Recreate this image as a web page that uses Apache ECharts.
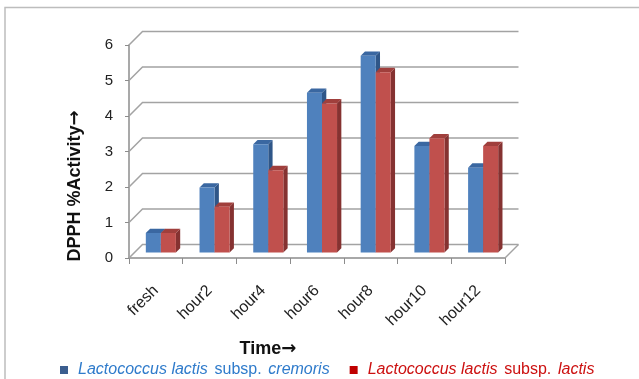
<!DOCTYPE html>
<html>
<head>
<meta charset="utf-8">
<script src="https://cdn.jsdelivr.net/npm/echarts@6/dist/echarts.min.js"></script>
<style>
  html, body { margin: 0; padding: 0; background: #fff; }
  #chart { width: 639px; height: 379px; }
</style>
</head>
<body>
<div id="chart"></div>
<script>
// Sampling times and DPPH radical-scavenging activity (%) per strain
const categories = ['fresh', 'hour2', 'hour4', 'hour6', 'hour8', 'hour10', 'hour12'];
const cremorisValues = [0.55, 1.83, 3.05, 4.50, 5.54, 3.00, 2.39];
const lactisValues = [0.55, 1.29, 2.32, 4.20, 5.08, 3.22, 3.00];
const yTicks = [0, 1, 2, 3, 4, 5, 6];
const seriesNames = ['Lactococcus lactis subsp. cremoris', 'Lactococcus lactis subsp. lactis'];
const xTitle = 'Time';
const yTitle = 'DPPH %Activity';
const ARROW = '→';

const FONT = '"Liberation Sans", Arial, sans-serif';
const ARROW_FONT = '"DejaVu Sans", sans-serif';

// oblique projection: back wall offset and bar placement in depth
const WALL = [13.5, -13.5];
const BAR_OFFSET = [5, -5.5];
const BAR_DEPTH = [4.3, -4.3];

const palette = {
  blue: { front: '#4F81BD', top: '#3A67A1', side: '#2F5688', legend: '#3B5E8F', text: '#2F7BCB' },
  red:  { front: '#C0504D', top: '#A03F3C', side: '#853231', legend: '#C00000', text: '#CC1010' }
};

// back wall grid lines with the diagonals running back from the value axis
function renderWall(params, api) {
  const cs = params.coordSys;
  const v = api.value(1);
  const y = api.coord([0, v])[1];
  const x0 = cs.x, x1 = cs.x + cs.width;
  const style = { stroke: '#A3A3A3', lineWidth: 1.5, fill: null };
  const children = [{
    type: 'polyline',
    shape: { points: [[x0, y], [x0 + WALL[0], y + WALL[1]], [x1 + WALL[0], y + WALL[1]]] },
    style: style
  }];
  if (v === 0) {
    children.push({
      type: 'line',
      shape: { x1: x1, y1: y, x2: x1 + WALL[0], y2: y + WALL[1] },
      style: style
    });
  }
  return { type: 'group', children: children };
}

// one 3-D column: front face, top face and right side face
function makeBarRenderer(side, colors) {
  return function (params, api) {
    const idx = api.value(0);
    const top = api.coord([idx, api.value(1)]);
    const base = api.coord([idx, 0]);
    const barW = api.size([1, 0])[0] * 0.28;
    const cx = top[0] + BAR_OFFSET[0];
    const x0 = side === 0 ? cx - barW : cx;
    const x1 = side === 0 ? cx : cx + barW;
    const yT = top[1] + BAR_OFFSET[1];
    const yB = base[1] + BAR_OFFSET[1];
    const dx = BAR_DEPTH[0], dy = BAR_DEPTH[1];
    return {
      type: 'group',
      children: [
        { type: 'polygon', shape: { points: [[x1, yT], [x1 + dx, yT + dy], [x1 + dx, yB + dy], [x1, yB]] },
          style: { fill: colors.side } },
        { type: 'polygon', shape: { points: [[x0, yT], [x1, yT], [x1 + dx, yT + dy], [x0 + dx, yT + dy]] },
          style: { fill: colors.top } },
        { type: 'rect', shape: { x: x0, y: yT, width: x1 - x0, height: yB - yT },
          style: { fill: colors.front } }
      ]
    };
  };
}

const titleRich = {
  t: { fontFamily: FONT, fontWeight: 'bold', fontSize: 18, fill: '#111' },
  a: { fontFamily: ARROW_FONT, fontWeight: 'bold', fontSize: 18, fill: '#111' }
};

const chart = echarts.init(document.getElementById('chart'), null, { renderer: 'canvas' });

chart.setOption({
  animation: false,
  backgroundColor: '#ffffff',
  textStyle: { fontFamily: FONT },
  grid: { left: 129, top: 45, width: 376, height: 213 },
  xAxis: {
    type: 'category',
    data: categories,
    boundaryGap: true,
    axisLine: { show: true, lineStyle: { color: '#8C8C8C', width: 1.5 } },
    axisTick: { show: true, length: 6, lineStyle: { color: '#8C8C8C' } },
    axisLabel: { rotate: 45, margin: 30, fontSize: 16, color: '#222', fontFamily: FONT },
    splitLine: { show: false }
  },
  yAxis: {
    type: 'value',
    min: 0,
    max: 6,
    interval: 1,
    axisLine: { show: true, lineStyle: { color: '#8C8C8C', width: 1.5 } },
    axisTick: { show: true, length: 4, lineStyle: { color: '#8C8C8C' } },
    axisLabel: { margin: 16, fontSize: 15, color: '#222', fontFamily: FONT },
    splitLine: { show: false }
  },
  legend: {
    left: 55,
    top: 357,
    itemGap: 20,
    icon: 'rect',
    itemWidth: 8,
    itemHeight: 8,
    data: [
      { name: seriesNames[0], itemStyle: { color: palette.blue.legend } },
      { name: seriesNames[1], itemStyle: { color: palette.red.legend } }
    ],
    formatter: function (name) {
      const parts = name.split(' subsp. ');
      const k = name === seriesNames[0] ? 'b' : 'r';
      return '{sp|}{' + k + 'i|' + parts[0] + '}  {' + k + 'n|subsp.}  {' + k + 'i|' + parts[1] + '}';
    },
    textStyle: {
      fontFamily: FONT,
      rich: {
        sp: { width: 5 },
        bi: { fontStyle: 'italic', fontSize: 16, color: palette.blue.text, fontFamily: FONT },
        bn: { fontSize: 16, color: palette.blue.text, fontFamily: FONT },
        ri: { fontStyle: 'italic', fontSize: 16, color: palette.red.text, fontFamily: FONT },
        rn: { fontSize: 16, color: palette.red.text, fontFamily: FONT }
      }
    }
  },
  graphic: [
    { type: 'polyline', silent: true,
      shape: { points: [[5, 390], [5, 7.5], [650, 7.5]] },
      style: { stroke: '#BDBDBD', lineWidth: 1.5, fill: null } },
    { type: 'text', x: 75, y: 186, rotation: Math.PI / 2, silent: true,
      style: { text: '{t|' + yTitle + '}{a|' + ARROW + '}', rich: titleRich,
               align: 'center', verticalAlign: 'middle' } },
    { type: 'text', x: 268, y: 349, silent: true,
      style: { text: '{t|' + xTitle + '}{a|' + ARROW + '}', rich: titleRich,
               align: 'center', verticalAlign: 'middle' } }
  ],
  series: [
    {
      type: 'custom',
      name: 'wall',
      silent: true,
      z: 1,
      renderItem: renderWall,
      data: yTicks.map(v => [0, v]),
      encode: { x: 0, y: 1 }
    },
    {
      type: 'custom',
      name: seriesNames[0],
      z: 3,
      clip: false,
      itemStyle: { color: palette.blue.legend },
      renderItem: makeBarRenderer(0, palette.blue),
      data: categories.map((c, i) => [i, cremorisValues[i]]),
      encode: { x: 0, y: 1 }
    },
    {
      type: 'custom',
      name: seriesNames[1],
      z: 3,
      clip: false,
      itemStyle: { color: palette.red.legend },
      renderItem: makeBarRenderer(1, palette.red),
      data: categories.map((c, i) => [i, lactisValues[i]]),
      encode: { x: 0, y: 1 }
    }
  ]
});
</script>
</body>
</html>
